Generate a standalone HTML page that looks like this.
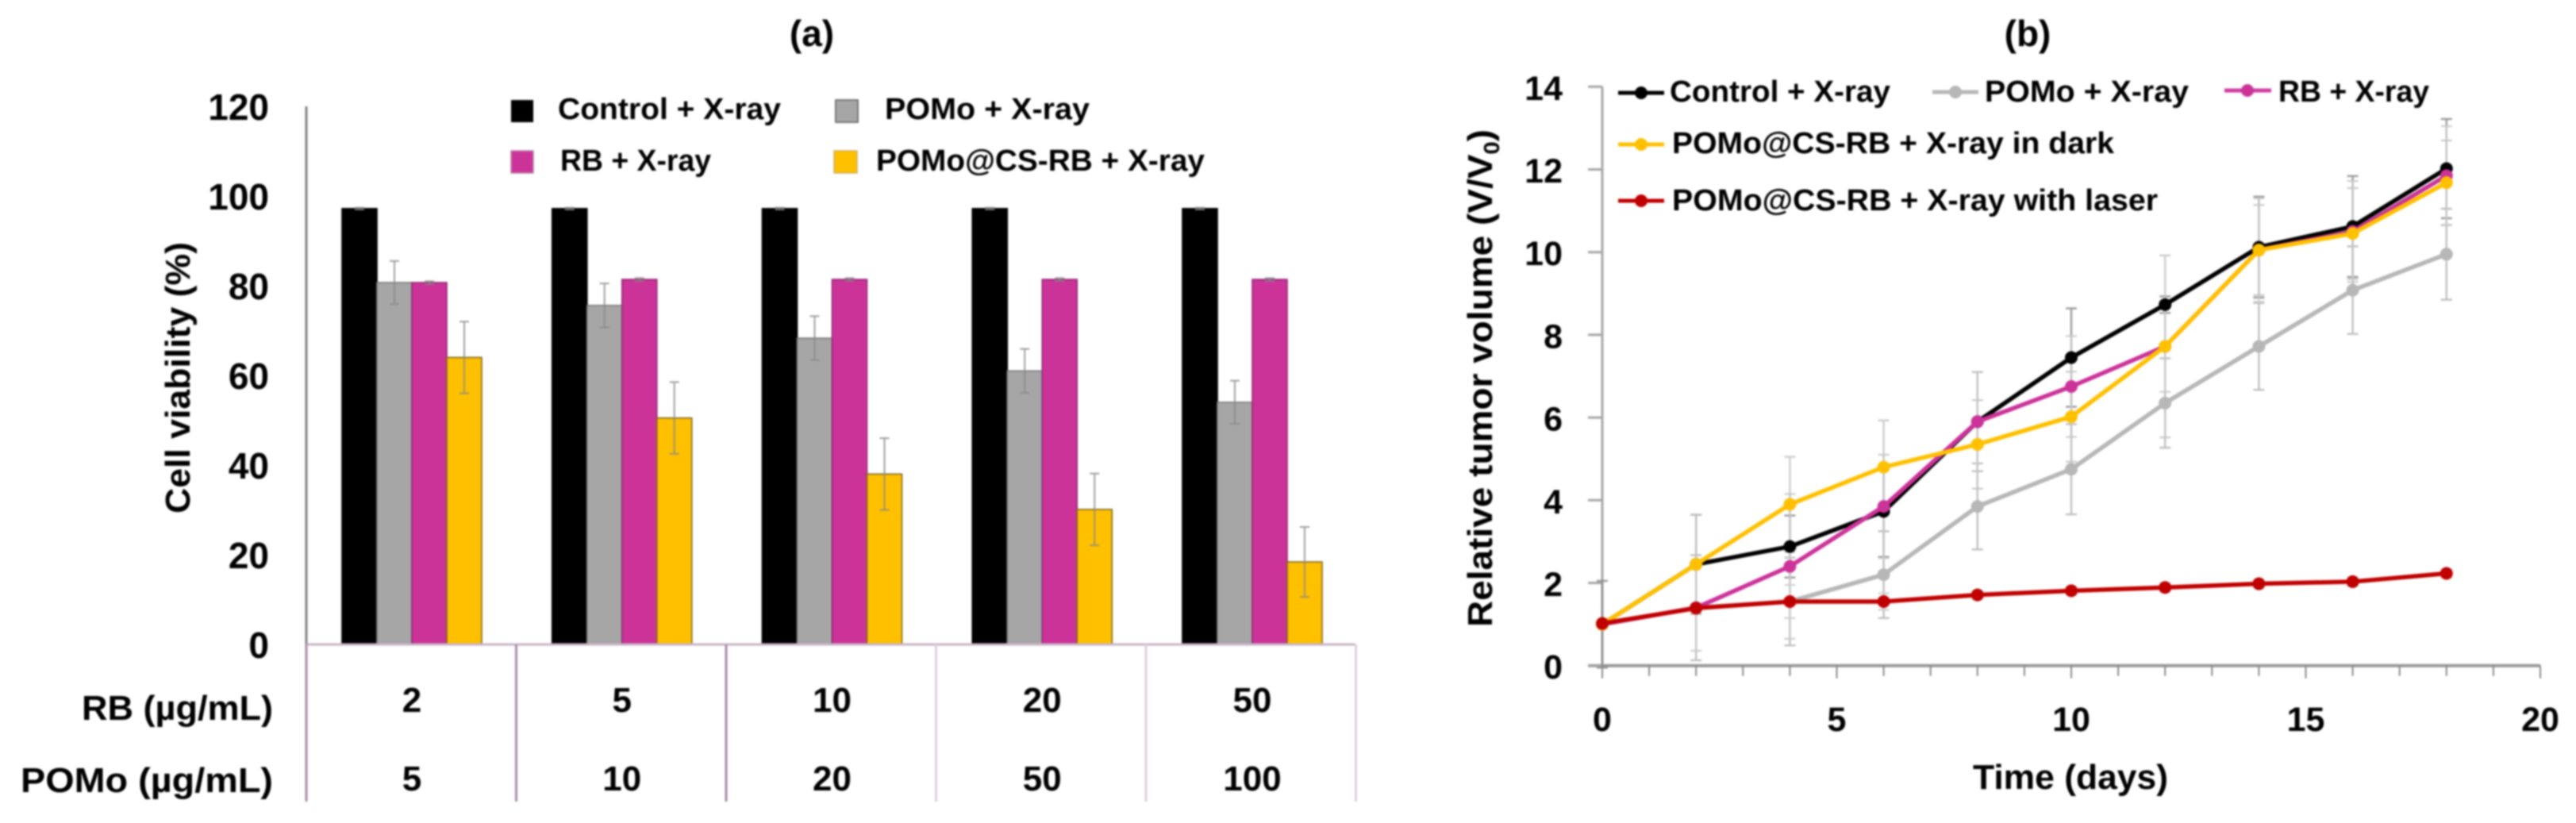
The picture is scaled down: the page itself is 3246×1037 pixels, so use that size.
<!DOCTYPE html>
<html lang="en">
<head>
<meta charset="utf-8">
<title>Cell viability and relative tumor volume charts</title>
<style>
html,body{margin:0;padding:0;background:#fff;width:3246px;height:1037px;overflow:hidden}
svg{display:block;filter:blur(1px)}
text{font-family:"Liberation Sans",sans-serif;font-weight:bold;fill:#000}
</style>
</head>
<body>
<svg id="fig" xmlns="http://www.w3.org/2000/svg" width="3246" height="1037" viewBox="0 0 3246 1037">
  <rect x="0" y="0" width="3246" height="1037" fill="#fff"/>

  <text x="1023" y="58" font-size="46" text-anchor="middle">(a)</text>
  <text x="2555" y="58" font-size="46" text-anchor="middle">(b)</text>

  <g id="panelA"></g>
  <g id="panelB"></g>

  <text transform="translate(239,647) rotate(-90)" font-size="44" textLength="342" lengthAdjust="spacingAndGlyphs">Cell viability (%)</text>
  <text x="103" y="907" font-size="44" textLength="241" lengthAdjust="spacingAndGlyphs">RB (µg/mL)</text>
  <text x="26" y="998" font-size="44" textLength="318" lengthAdjust="spacingAndGlyphs">POMo (µg/mL)</text>

  <g>
    <rect x="644" y="126" width="28" height="28" fill="#000"/>
    <text x="703" y="150" font-size="38" textLength="281" lengthAdjust="spacingAndGlyphs">Control + X-ray</text>
    <rect x="1053" y="126" width="28" height="28" fill="#a6a6a6" stroke="#777" stroke-width="2"/>
    <text x="1115" y="150" font-size="38" textLength="258" lengthAdjust="spacingAndGlyphs">POMo + X-ray</text>
    <rect x="644" y="190" width="28" height="28" fill="#cc3399" stroke="#b58aa8" stroke-width="1.5"/>
    <text x="706" y="215" font-size="38" textLength="190" lengthAdjust="spacingAndGlyphs">RB + X-ray</text>
    <rect x="1051" y="190" width="29" height="28" fill="#ffc000" stroke="#c9b26a" stroke-width="1.5"/>
    <text x="1104" y="215" font-size="38" textLength="414" lengthAdjust="spacingAndGlyphs">POMo@CS-RB + X-ray</text>
  </g>

  <text transform="translate(1880,790) rotate(-90)" font-size="44" textLength="627" lengthAdjust="spacingAndGlyphs">Relative tumor volume (V/V<tspan font-size="28" dy="9">0</tspan><tspan dy="-9">)</tspan></text>
  <text x="2486" y="994" font-size="44" textLength="246" lengthAdjust="spacingAndGlyphs">Time (days)</text>

  <g>
    <line x1="2039" y1="117" x2="2097" y2="117" stroke="#000" stroke-width="5"/>
    <circle cx="2068" cy="117" r="8" fill="#000"/>
    <text x="2104" y="128" font-size="38" textLength="278" lengthAdjust="spacingAndGlyphs">Control + X-ray</text>
    <line x1="2435" y1="116" x2="2493" y2="116" stroke="#b7b7b7" stroke-width="5"/>
    <circle cx="2464" cy="116" r="8" fill="#b7b7b7"/>
    <text x="2501" y="128" font-size="38" textLength="257" lengthAdjust="spacingAndGlyphs">POMo + X-ray</text>
    <line x1="2803" y1="114" x2="2862" y2="114" stroke="#d03ba0" stroke-width="5"/>
    <circle cx="2832" cy="114" r="8" fill="#cc3399"/>
    <text x="2871" y="128" font-size="38" textLength="190" lengthAdjust="spacingAndGlyphs">RB + X-ray</text>
    <line x1="2039" y1="182" x2="2097" y2="182" stroke="#ffc000" stroke-width="5"/>
    <circle cx="2068" cy="182" r="8" fill="#ffc000"/>
    <text x="2107" y="193" font-size="38" textLength="557" lengthAdjust="spacingAndGlyphs">POMo@CS-RB + X-ray in dark</text>
    <line x1="2039" y1="253" x2="2097" y2="253" stroke="#c00000" stroke-width="5"/>
    <circle cx="2068" cy="253" r="8" fill="#c00000"/>
    <text x="2107" y="265" font-size="38" textLength="612" lengthAdjust="spacingAndGlyphs">POMo@CS-RB + X-ray with laser</text>
  </g>
</svg>

<script>
// ---------- Panel (a) data ----------
var rbDoses = ['2', '5', '10', '20', '50'];
var pomoDoses = ['5', '10', '20', '50', '100'];
var viabilityTicks = [0, 20, 40, 60, 80, 100, 120];
var barSeriesNames = ['control', 'pomo', 'rb', 'pomo-cs-rb'];
var controlViability = [97.2, 97.2, 97.2, 97.2, 97.2];
var pomoViability = [80.7, 75.6, 68.3, 61, 54];
var rbViability = [80.7, 81.4, 81.4, 81.4, 81.4];
var pomoCsRbViability = [64, 50.5, 38, 30.1, 18.4];
var controlViabilityErr = [0.2, 0.2, 0.2, 0.2, 0.2];
var pomoViabilityErr = [4.8, 4.9, 4.9, 4.9, 4.8];
var rbViabilityErr = [0.3, 0.3, 0.3, 0.3, 0.3];
var pomoCsRbViabilityErr = [8, 8, 8, 8, 7.8];

// ---------- Panel (b) data ----------
var days = [0, 2, 4, 6, 8, 10, 12, 14, 16, 18];
var volumeTicks = [0, 2, 4, 6, 8, 10, 12, 14];
var dayTicks = [0, 5, 10, 15, 20];
var controlVolume = [1, 2.45, 2.88, 3.73, 5.9, 7.45, 8.73, 10.12, 10.62, 12.02];
var pomoVolume = [1, 1.4, 1.55, 2.2, 3.85, 4.75, 6.35, 7.72, 9.08, 9.95];
var rbVolume = [1, 1.4, 2.4, 3.85, 5.9, 6.75, 7.72, 10.05, 10.5, 11.85];
var darkVolume = [1, 2.45, 3.9, 4.8, 5.35, 6.02, 7.72, 10.05, 10.45, 11.68];
var laserVolume = [1.02, 1.39, 1.55, 1.55, 1.71, 1.81, 1.89, 1.98, 2.03, 2.23];
var controlVolumeErr = [1.05, 1.2, 0.75, 1.1, 1.2, 1.19, 0.2, 1.22, 1.22, 1.2];
var pomoVolumeErr = [0.05, 1.27, 1.06, 1.05, 1.04, 1.09, 1.08, 1.05, 1.06, 1.1];
var rbVolumeErr = [0.05, 1.04, 1.75, 1.25, 1.2, 1.22, 1.1, 1.25, 1.22, 1.2];
var darkVolumeErr = [0.05, 1.2, 1.15, 1.13, 1.07, 1.09, 2.2, 1.09, 1.1, 1.02];
var laserVolumeErr = [0.05, 0.1, 0.4, 0.2, 0.1, 0.1, 0.1, 0.1, 0.1, 0.1];

var SVGNS = 'http://www.w3.org/2000/svg';
function make(parent, tag, props, content) {
  var node = document.createElementNS(SVGNS, tag);
  for (var k in props) { node.setAttribute(k, props[k]); }
  if (content !== undefined) { node.textContent = content; }
  parent.appendChild(node);
  return node;
}

// ---------- Panel (a) axis functions ----------
function yA(v) { return 812 - v * 5.65; }
function groupCenterA(g) { return 519 + g * 264.75; }
function barLeftA(g, s) { return 431 + g * 264.75 + s * 44; }

var panelA = document.getElementById('panelA');
var barValues = [controlViability, pomoViability, rbViability, pomoCsRbViability];
var barErrors = [controlViabilityErr, pomoViabilityErr, rbViabilityErr, pomoCsRbViabilityErr];
var barFills = ['#000000', '#a6a6a6', '#cc3399', '#ffc000'];
var barStrokes = ['#000000', '#7a7a7a', '#8f2a72', '#7f6a20'];

var yAxisA = make(panelA, 'line', {x1: 386, y1: yA(120), x2: 386, y2: yA(0), stroke: '#808080', 'stroke-width': 3});



viabilityTicks.forEach(function (t) {
  var label = make(panelA, 'text', {x: 339, y: yA(t) + 17, 'font-size': 46, 'text-anchor': 'end'}, String(t));
  
  
});

barValues.forEach(function (series, s) {
  series.forEach(function (v, g) {
    var bar = make(panelA, 'rect', {x: barLeftA(g, s), y: yA(v), width: 44, height: yA(0) - yA(v), fill: barFills[s], stroke: barStrokes[s], 'stroke-width': 1.6});
    
    
  });
});

barValues.forEach(function (series, s) {
  series.forEach(function (v, g) {
    var cx = barLeftA(g, s) + 22;
    var err = barErrors[s][g];
    var errPath = 'M' + cx + ' ' + yA(v + err) + 'V' + yA(v - err) +
      'M' + (cx - 6) + ' ' + yA(v + err) + 'h12M' + (cx - 6) + ' ' + yA(v - err) + 'h12';
    var bar = make(panelA, 'path', {d: errPath, fill: 'none', stroke: '#888', 'stroke-width': 2, opacity: 0.8});
    
    
  });
});

var baseA = make(panelA, 'line', {x1: 386, y1: yA(0), x2: 1708, y2: yA(0), stroke: '#c9b4c9', 'stroke-width': 3});



for (var i = 0; i <= rbDoses.length; i++) {
  var sepX = 386 + i * 264.5;
  var sep = make(panelA, 'line', {x1: sepX, y1: yA(0), x2: sepX, y2: 1010, stroke: i < 3 ? '#a98aa9' : '#dccfdc', 'stroke-width': 3});
  
  
}

rbDoses.forEach(function (d, g) {
  var label = make(panelA, 'text', {x: groupCenterA(g), y: 897, 'font-size': 44, 'text-anchor': 'middle'}, d);
  
  
});
pomoDoses.forEach(function (d, g) {
  var label = make(panelA, 'text', {x: groupCenterA(g), y: 996, 'font-size': 44, 'text-anchor': 'middle'}, d);
  
  
});

// ---------- Panel (b) axis functions ----------
function xB(d) { return 2019 + d * 59.1; }
function yB(v) { return 838.7 - v * 52.1; }

var panelB = document.getElementById('panelB');
var lineNames = ['control', 'pomo', 'rb', 'dark', 'laser'];
var lineValues = [controlVolume, pomoVolume, rbVolume, darkVolume, laserVolume];
var lineErrors = [controlVolumeErr, pomoVolumeErr, rbVolumeErr, darkVolumeErr, laserVolumeErr];
var lineColors = ['#000000', '#b7b7b7', '#cc3399', '#ffc000', '#c00000'];
var errColors = ['#8a8a8a', '#b5b5b5', '#c9c9c9', '#c4c4c4', '#cccccc'];

var yAxisB = make(panelB, 'line', {x1: 2019, y1: yB(14), x2: 2019, y2: yB(0), stroke: '#a6a6a6', 'stroke-width': 3});


var xAxisB = make(panelB, 'line', {x1: 2001, y1: yB(0), x2: xB(20), y2: yB(0), stroke: '#999', 'stroke-width': 4});



volumeTicks.forEach(function (t) {
  var tick = make(panelB, 'line', {x1: 2001, y1: yB(t), x2: 2019, y2: yB(t), stroke: '#a6a6a6', 'stroke-width': 3});
  
  
  var label = make(panelB, 'text', {x: 1969, y: yB(t) + 16.5, 'font-size': 43, 'text-anchor': 'end'}, String(t));
  
  
});

for (var d = 0; d <= 20; d++) {
  var tickB = make(panelB, 'line', {x1: xB(d), y1: yB(0), x2: xB(d), y2: yB(0) + (d % 5 === 0 ? 16 : 13), stroke: '#8a8a8a', 'stroke-width': 2});
  
  
}

dayTicks.forEach(function (t) {
  var label = make(panelB, 'text', {x: xB(t), y: 921, 'font-size': 43, 'text-anchor': 'middle'}, String(t));
  
  
});

lineValues.forEach(function (series, s) {
  series.forEach(function (v, k) {
    var cx = xB(days[k]);
    var err = lineErrors[s][k];
    var errPath = 'M' + cx + ' ' + yB(v + err) + 'V' + yB(v - err) +
      'M' + (cx - 7) + ' ' + yB(v + err) + 'h14M' + (cx - 7) + ' ' + yB(v - err) + 'h14';
    var bar = make(panelB, 'path', {d: errPath, fill: 'none', stroke: errColors[s], 'stroke-width': 2.4, opacity: 0.85});
    
    
  });
});

lineValues.forEach(function (series, s) {
  var pts = series.map(function (v, k) { return xB(days[k]) + ',' + yB(v); }).join(' ');
  var line = make(panelB, 'polyline', {points: pts, fill: 'none', stroke: lineColors[s], 'stroke-width': 5.5, 'stroke-linejoin': 'round'});
  
  
  series.forEach(function (v, k) {
    var dot = make(panelB, 'circle', {cx: xB(days[k]), cy: yB(v), r: 8, fill: lineColors[s]});
    
    
  });
});
</script>
</body>
</html>
